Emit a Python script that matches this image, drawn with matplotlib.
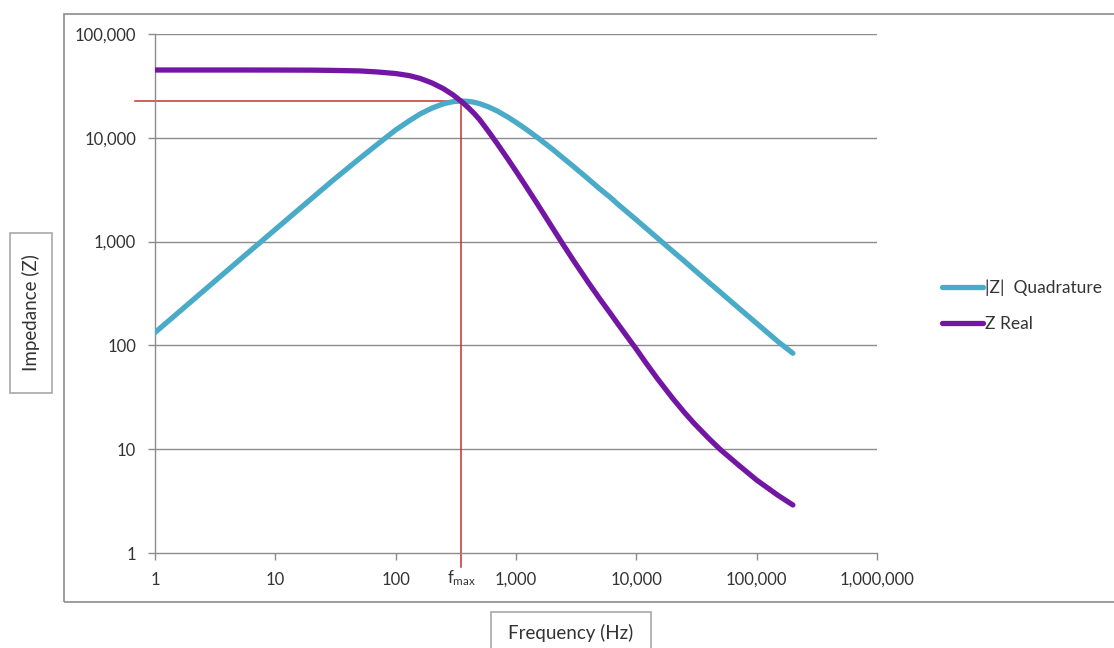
"""Impedance vs frequency (log-log), Excel-style chart with f_max marker."""
import matplotlib

matplotlib.use("Agg")
import matplotlib.pyplot as plt
from matplotlib.patches import Rectangle
from matplotlib.ticker import FixedLocator, FuncFormatter, NullLocator

plt.rcParams["font.family"] = ["Lato", "DejaVu Sans"]
plt.rcParams["mathtext.fontset"] = "custom"
plt.rcParams["mathtext.rm"] = "Lato"

# data
freq = [1, 2, 5, 10, 20, 30, 50, 70, 100, 130, 160, 200, 250, 300, 350, 400,
        450, 500, 600, 700, 850, 1000, 1200, 1500, 2000, 2500, 3000, 4000,
        5000, 6000, 7000, 8500, 10000, 12000, 15000, 20000, 25000, 30000,
        40000, 50000, 70000, 100000, 150000, 200000]
z_quad = [133, 265, 660, 1310, 2600, 3880, 6300, 8600, 11900, 14600, 17000,
          19300, 21300, 22300, 22600, 22450, 22000, 21300, 19700, 18100, 15900,
          14100, 12200, 10100, 7800, 6300, 5300, 4000, 3200, 2700, 2300, 1900,
          1620, 1350, 1080, 810, 650, 540, 405, 325, 232, 163, 109, 84]
z_real = [45000, 45000, 45000, 44950, 44850, 44600, 44100, 43100, 41600, 39700,
          37300, 33800, 29700, 25900, 22500, 19600, 17100, 14900, 11230, 8745,
          6310, 4770, 3460, 2320, 1370, 912, 659, 402, 278, 208, 162, 119, 92,
          68, 47.7, 31, 22.7, 17.9, 12.7, 9.9, 7.1, 5.04, 3.6, 2.9]
f_max = 350
z_max = 22600

x_ticks = [1, 10, 100, 1000, 10000, 100000, 1000000]
y_ticks = [1, 10, 100, 1000, 10000, 100000]

BLUE = "#4AABC8"
PURPLE = "#7416A4"
RED = "#C8302C"
GRID = "#8C8C8C"
TXT = "#333333"

fig = plt.figure(figsize=(11.14, 6.48), dpi=100)
W, H = 1114, 648


def px_rect(x0, y0, x1, y1, color):
    # rectangle given in pixel coordinates from the top-left corner
    fig.patches.append(Rectangle((x0 / W, 1 - y1 / H), (x1 - x0) / W, (y1 - y0) / H,
                                 transform=fig.transFigure, fill=False,
                                 edgecolor=color, lw=1.2))


# outer chart frame and axis-title boxes
px_rect(63.5, 13.5, 1200, 602, "#8C8C8C")
px_rect(9.5, 233, 52, 393, "#A8A8A8")
px_rect(491, 612, 651, 700, "#A8A8A8")

ax = fig.add_axes([155 / W, 1 - 553 / H, (877 - 155) / W, (553 - 34) / H])
ax.set_xscale("log")
ax.set_yscale("log")
ax.set_xlim(x_ticks[0], x_ticks[-1])
ax.set_ylim(y_ticks[0], y_ticks[-1])

fmt = FuncFormatter(lambda v, _: f"{v:,.0f}")
ax.xaxis.set_major_locator(FixedLocator(x_ticks))
ax.yaxis.set_major_locator(FixedLocator(y_ticks))
ax.xaxis.set_minor_locator(NullLocator())
ax.yaxis.set_minor_locator(NullLocator())
ax.xaxis.set_major_formatter(fmt)
ax.yaxis.set_major_formatter(fmt)
ax.tick_params(axis="both", direction="out", length=5, width=1, color=GRID,
               labelsize=12, labelcolor=TXT, pad=8.5)

for side in ("top", "right"):
    ax.spines[side].set_visible(False)
for side in ("left", "bottom"):
    ax.spines[side].set_color(GRID)
    ax.spines[side].set_linewidth(1)

for y in y_ticks[1:]:
    ax.axhline(y, color=GRID, lw=1, zorder=1)

ax.plot(freq, z_quad, color=BLUE, lw=3.8, solid_capstyle="round", zorder=3,
        label="|Z|  Quadrature")
ax.plot(freq, z_real, color=PURPLE, lw=3.8, solid_capstyle="round", zorder=3,
        label="Z Real")

# f_max guide lines, running a little past the axes
ax.plot([x_ticks[0] * 10 ** -0.17, f_max], [z_max, z_max], color=RED, lw=1.1,
        clip_on=False, zorder=2)
ax.plot([f_max, f_max], [z_max, y_ticks[0] * 10 ** -0.135], color=RED, lw=1.1,
        clip_on=False, zorder=2)
ax.text(f_max, -0.048, r"$\mathrm{f_{max}}$", transform=ax.get_xaxis_transform(),
        ha="center", va="center", fontsize=12, color=TXT)

fig.legend(loc="center left", bbox_to_anchor=(926 / W, 1 - 306 / H),
           frameon=False, fontsize=12.5, handlelength=2.4,
           handletextpad=0.12, labelspacing=1.15, labelcolor=TXT)

fig.text(30.5 / W, 1 - 313 / H, "Impedance (Z)", rotation=90, ha="center",
         va="center", fontsize=13.5, color=TXT)
fig.text(571 / W, 1 - 633 / H, "Frequency (Hz)", ha="center", va="center",
         fontsize=13.5, color=TXT)

fig.savefig("out.png", dpi=100, facecolor="white")
